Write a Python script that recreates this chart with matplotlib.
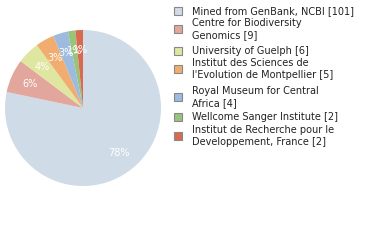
import matplotlib
matplotlib.use("Agg")
import matplotlib.pyplot as plt
from matplotlib.patches import Rectangle

labels = ["Mined from GenBank, NCBI [101]",
          "Centre for Biodiversity\nGenomics [9]",
          "University of Guelph [6]",
          "Institut des Sciences de\nl'Evolution de Montpellier [5]",
          "Royal Museum for Central\nAfrica [4]",
          "Wellcome Sanger Institute [2]",
          "Institut de Recherche pour le\nDeveloppement, France [2]"]
values = [101, 9, 6, 5, 4, 2, 2]
colors = ["#cfdbe7", "#e2a69d", "#dfe6a0", "#f1ad6f", "#9dbadf", "#98c47a", "#d96a50"]

W, H = 380, 240
fig = plt.figure(figsize=(W / 100, H / 100), dpi=100)
cx, cy, r = 83, 108, 78
ax = fig.add_axes([(cx - r) / W, (H - cy - r) / H, 2 * r / W, 2 * r / H])

total = sum(values)
ax.pie(values, colors=colors, startangle=90, counterclock=False,
       autopct=lambda p: f"{int(p * total / 100.0 * 100 / total + 1e-9)}%",
       pctdistance=0.74,
       textprops=dict(color="white", fontsize=7, family="DejaVu Sans"),
       wedgeprops=dict(linewidth=0))
ax.set_xlim(-1, 1)
ax.set_ylim(-1, 1)
ax.set_aspect("equal")
ax.axis("off")

# legend
centers = [11, 29, 51, 69, 97, 117, 136]
for lab, col, yc in zip(labels, colors, centers):
    fig.patches.append(Rectangle((174 / W, (H - yc - 4) / H), 8 / W, 8 / H,
                                 transform=fig.transFigure, facecolor=col,
                                 edgecolor="#888888", linewidth=0.8))
    fig.text(192 / W, (H - yc) / H, lab, fontsize=7, va="center", ha="left",
             color="#222222", linespacing=1.25, family="DejaVu Sans")

fig.savefig("out.png", dpi=100)
